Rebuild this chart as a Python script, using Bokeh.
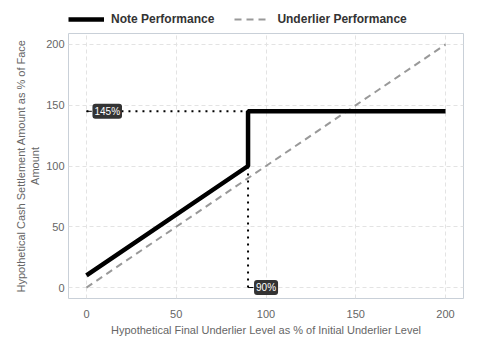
from bokeh.plotting import figure
from bokeh.layouts import column
from bokeh.models import Range1d, Legend, LegendItem, Label, FixedTicker
from bokeh.embed import file_html
from bokeh.resources import INLINE

note_x = [0, 90, 90, 200]
note_y = [10, 100, 145, 145]
under_x = [0, 200]
under_y = [0, 200]
cap_level = 145
barrier_level = 90
xticks = [0, 50, 100, 150, 200]
yticks = [0, 50, 100, 150, 200]
series_names = ["Note Performance", "Underlier Performance"]

FONT = "Liberation Sans"
GRAY = "#666666"
NOTE_STYLE = dict(line_color="black", line_width=4.5)
UNDER_STYLE = dict(line_color="#999999", line_width=2, line_dash="7 5")

# ---- legend strip (series drawn out of view; only the legend shows) ----
lg = figure(width=472, height=28, output_backend="svg", toolbar_location=None,
            x_axis_location=None, y_axis_location=None,
            x_range=Range1d(1000, 1001), y_range=Range1d(1000, 1001),
            min_border_left=0, min_border_right=0, min_border_top=0, min_border_bottom=0)
lg.grid.visible = False
lg.outline_line_color = None
l_note = lg.line(note_x, note_y, **NOTE_STYLE)
l_under = lg.line(under_x, under_y, **UNDER_STYLE)
legend = Legend(items=[LegendItem(label=series_names[0], renderers=[l_note]),
                       LegendItem(label=series_names[1], renderers=[l_under])],
                orientation="horizontal", location=(0, 1),
                label_text_font=FONT, label_text_font_size="12px", label_text_font_style="bold",
                label_text_color="#333333", glyph_width=36, glyph_height=16, label_height=16,
                label_standoff=7, spacing=20, border_line_color=None, background_fill_alpha=0,
                margin=0, padding=0)
lg.add_layout(legend)

# ---- main chart ----
p = figure(width=472, height=324, output_backend="svg", toolbar_location=None,
           x_range=Range1d(-10, 210), y_range=Range1d(-9, 209),
           min_border_left=68, min_border_right=9, min_border_bottom=54, min_border_top=5)

p.outline_line_color = "#c9d0d8"
p.outline_line_width = 1
for ax in (p.xaxis[0], p.yaxis[0]):
    ax.axis_line_color = None
    ax.major_tick_line_color = None
    ax.minor_tick_line_color = None
    ax.major_label_text_font = FONT
    ax.major_label_text_font_size = "11px"
    ax.major_label_text_color = GRAY
    ax.axis_label_text_font = FONT
    ax.axis_label_text_font_size = "11px"
    ax.axis_label_text_font_style = "normal"
    ax.axis_label_text_color = GRAY
p.xaxis.ticker = FixedTicker(ticks=xticks)
p.yaxis.ticker = FixedTicker(ticks=yticks)
p.xaxis.axis_label = "Hypothetical Final Underlier Level as % of Initial Underlier Level"
p.yaxis.axis_label = "Hypothetical Cash Settlement Amount as % of Face\nAmount"
p.xaxis.major_label_standoff = 5
p.xaxis.axis_label_standoff = 3
p.yaxis.major_tick_out = 0
p.yaxis.minor_tick_out = 0
p.yaxis.major_label_standoff = 4
p.yaxis.axis_label_standoff = 2

p.grid.grid_line_color = "#e3e3e3"
p.grid.grid_line_dash = "4 3"

# dotted reference lines
p.line([0, barrier_level], [cap_level, cap_level], line_color="black", line_width=2, line_dash="2 5")
p.line([barrier_level, barrier_level], [0, note_y[1]], line_color="black", line_width=2, line_dash="2 5")

p.line(under_x, under_y, **UNDER_STYLE)
p.line(note_x, note_y, **NOTE_STYLE)

for x, y, t in [(0, cap_level, "145%"), (barrier_level, 0, "90%")]:
    p.segment(x0=[x], y0=[y], x1=[x + 3], y1=[y], line_color="black", line_width=1)
    lab = Label(x=x, y=y, text=t, x_offset=6, text_baseline="middle", text_align="left",
                text_color="white", text_font=FONT, text_font_size="10px",
                background_fill_color="#333333", border_radius=3, padding=2)
    p.add_layout(lab)

layout = column(lg, p, spacing=0)
open("out.html", "w").write(file_html(layout, INLINE))
